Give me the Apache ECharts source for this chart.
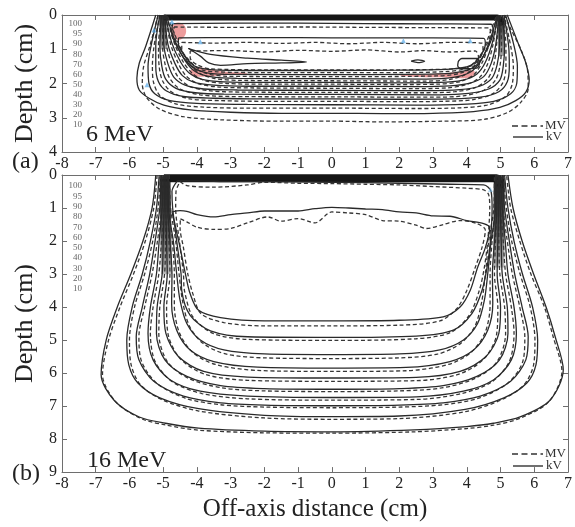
<!DOCTYPE html>
<html>
<head>
<meta charset="utf-8">
<script src="https://cdn.jsdelivr.net/npm/echarts@6/dist/echarts.min.js"></script>
<style>
  html, body { margin: 0; padding: 0; background: #fff; }
  #chart { width: 575px; height: 527px; }
</style>
</head>
<body>
<div id="chart"></div>
<script>
// Isodose levels (%) listed in the small key inside each panel
const isoLevels = [100, 95, 90, 80, 70, 60, 50, 40, 30, 20, 10];

// Axis ticks
const offAxisTicks = { min: -8, max: 7, step: 1 };
const depthMax6 = 4;
const depthMax16 = 9;

// ---------- 6 MeV isodose contours, [off-axis cm, depth cm] ----------
// kV-imaging plan (solid): 100 % islands, 95, 90, 80 ... 10 %
const kV6 = [
  [[-4.25,0.98],[-3.6,1.15],[-2.5,1.26],[-1.5,1.32],[-0.75,1.37],[-1.5,1.4],[-2.5,1.42],[-3.3,1.47],[-3.65,1.4],[-3.9,1.2],[-4.25,0.98]],
  [[2.35,1.35],[2.55,1.31],[2.75,1.35],[2.55,1.39],[2.35,1.35]],
  [[3.75,1.35],[3.85,1.27],[4.3,1.27],[4.38,1.38],[4.3,1.55],[3.85,1.57],[3.73,1.48],[3.75,1.35]],
  [[-4.55,0.67],[-3,0.66],[-1,0.66],[1,0.67],[3,0.67],[4.5,0.68],[4.55,0.85],[4.4,1.2],[4.1,1.48],[3.5,1.58],[2,1.61],[0,1.62],[-2,1.62],[-3.5,1.6],[-4.05,1.5],[-4.35,1.2],[-4.55,0.85],[-4.55,0.67]],
  [[-4.72,0.25],[-3,0.24],[-1,0.24],[1,0.25],[3,0.26],[4.72,0.27],[4.78,0.5],[4.6,1.0],[4.3,1.45],[3.9,1.64],[3.2,1.72],[0,1.74],[-3.2,1.73],[-3.85,1.65],[-4.22,1.45],[-4.55,1.0],[-4.75,0.5],[-4.72,0.25]],
  [[-4.9,0.04],[-4.65,0.75],[-4.35,1.33],[-4.05,1.65],[-3.6,1.8],[-2.8,1.85],[0,1.86],[2.8,1.87],[3.6,1.82],[4.1,1.67],[4.42,1.33],[4.68,0.75],[4.9,0.04]],
  [[-4.93,0.02],[-4.75,0.8],[-4.48,1.38],[-4.22,1.7],[-3.85,1.88],[-3.2,1.95],[-2,1.97],[0,1.97],[2,1.98],[3.2,1.97],[3.88,1.9],[4.3,1.72],[4.55,1.38],[4.76,0.8],[4.92,0.02]],
  [[-4.96,0],[-4.86,0.85],[-4.65,1.42],[-4.43,1.77],[-4.1,1.96],[-3.5,2.05],[-2.5,2.08],[0,2.08],[2.5,2.09],[3.5,2.07],[4.12,1.98],[4.5,1.8],[4.72,1.42],[4.86,0.85],[4.95,0]],
  [[-5.0,0],[-4.98,0.9],[-4.85,1.45],[-4.68,1.82],[-4.35,2.05],[-3.8,2.16],[-2.8,2.19],[0,2.2],[2.8,2.21],[3.8,2.18],[4.38,2.08],[4.74,1.85],[4.9,1.45],[4.97,0.9],[4.98,0]],
  [[-5.05,0],[-5.1,0.9],[-5.04,1.5],[-4.92,1.88],[-4.62,2.14],[-4.05,2.27],[-3.2,2.31],[0,2.32],[3.2,2.33],[4.05,2.29],[4.65,2.16],[4.98,1.9],[5.08,1.5],[5.12,0.9],[5.05,0]],
  [[-5.1,0],[-5.22,0.9],[-5.22,1.5],[-5.14,1.95],[-4.9,2.22],[-4.4,2.38],[-3.5,2.43],[-2,2.45],[0,2.45],[2,2.46],[3.5,2.45],[4.4,2.4],[4.95,2.24],[5.2,1.95],[5.26,1.5],[5.24,0.9],[5.1,0]],
  [[-5.15,0],[-5.36,0.9],[-5.45,1.5],[-5.42,2.0],[-5.25,2.3],[-4.8,2.5],[-4.0,2.58],[-2.5,2.61],[0,2.62],[2.5,2.63],[4.0,2.6],[4.8,2.52],[5.3,2.3],[5.48,2.0],[5.5,1.5],[5.4,0.9],[5.15,0]],
  [[-5.22,0],[-5.52,0.92],[-5.71,1.41],[-5.78,1.85],[-5.71,2.19],[-5.42,2.43],[-4.98,2.63],[-4.2,2.77],[-3,2.84],[-1.5,2.87],[0,2.87],[1.5,2.88],[3,2.87],[4.2,2.82],[4.98,2.7],[5.45,2.5],[5.75,2.25],[5.85,1.9],[5.75,1.4],[5.56,0.92],[5.2,0]]
];

// MV-imaging plan (dashed)
const MV6 = [
  [[-4.2,1.05],[-3.0,1.04],[-2.0,1.08],[-1.0,1.03],[0,1.06],[1.0,1.02],[2.0,1.08],[2.7,1.04],[3.5,1.08],[4.25,1.05],[4.35,1.25],[4.2,1.45],[3.8,1.56],[2,1.6],[0,1.6],[-2,1.6],[-3.6,1.57],[-4.0,1.45],[-4.2,1.25],[-4.2,1.05]],
  [[-4.45,0.8],[-3.5,0.82],[-2.5,0.8],[-1.5,0.83],[-0.5,0.8],[0.5,0.84],[1.5,0.8],[2.5,0.84],[3.5,0.8],[4.45,0.82],[4.48,1.0],[4.3,1.3],[4.0,1.55],[3.4,1.65],[2,1.68],[0,1.68],[-2,1.68],[-3.4,1.66],[-3.95,1.57],[-4.25,1.3],[-4.45,1.0],[-4.45,0.8]],
  [[-4.68,0.35],[-3,0.36],[-1,0.35],[1,0.36],[3,0.37],[4.68,0.38],[4.7,0.55],[4.52,1.0],[4.22,1.48],[3.8,1.7],[3.1,1.78],[0,1.8],[-3.1,1.79],[-3.75,1.7],[-4.15,1.48],[-4.48,1.0],[-4.68,0.55],[-4.68,0.35]],
  [[-4.87,0.04],[-4.58,0.75],[-4.28,1.35],[-3.95,1.68],[-3.5,1.85],[-2.7,1.91],[0,1.92],[2.7,1.93],[3.5,1.88],[4.0,1.71],[4.34,1.35],[4.6,0.75],[4.87,0.04]],
  [[-4.9,0.02],[-4.68,0.8],[-4.4,1.38],[-4.12,1.72],[-3.75,1.92],[-3.1,2.0],[-2,2.02],[0,2.02],[2,2.03],[3.1,2.02],[3.78,1.95],[4.2,1.75],[4.46,1.38],[4.68,0.8],[4.9,0.02]],
  [[-4.93,0],[-4.78,0.85],[-4.55,1.42],[-4.32,1.78],[-3.98,2.0],[-3.4,2.1],[-2.4,2.13],[0,2.14],[2.4,2.15],[3.4,2.13],[4.0,2.03],[4.38,1.82],[4.62,1.42],[4.78,0.85],[4.92,0]],
  [[-4.96,0],[-4.9,0.9],[-4.74,1.45],[-4.55,1.82],[-4.22,2.08],[-3.65,2.21],[-2.7,2.25],[0,2.26],[2.7,2.27],[3.65,2.24],[4.25,2.12],[4.62,1.86],[4.8,1.45],[4.88,0.9],[4.95,0]],
  [[-5.0,0],[-5.02,0.9],[-4.93,1.5],[-4.8,1.86],[-4.5,2.16],[-3.9,2.33],[-3.0,2.38],[0,2.39],[3.0,2.4],[3.9,2.36],[4.52,2.19],[4.85,1.9],[4.98,1.5],[5.03,0.9],[5.0,0]],
  [[-5.05,0],[-5.14,0.9],[-5.12,1.5],[-5.02,1.92],[-4.75,2.25],[-4.2,2.45],[-3.3,2.5],[-2,2.52],[0,2.52],[2,2.53],[3.3,2.52],[4.2,2.47],[4.8,2.28],[5.08,1.95],[5.16,1.5],[5.16,0.9],[5.06,0]],
  [[-5.1,0],[-5.27,0.9],[-5.32,1.5],[-5.29,1.95],[-5.1,2.35],[-4.6,2.6],[-3.8,2.69],[-2.5,2.72],[0,2.72],[2.5,2.73],[3.8,2.71],[4.6,2.63],[5.15,2.38],[5.35,2.0],[5.38,1.5],[5.3,0.9],[5.1,0]],
  [[-5.15,0],[-5.4,0.92],[-5.58,1.5],[-5.62,2.0],[-5.5,2.4],[-5.1,2.75],[-4.4,2.97],[-3.3,3.06],[-1.5,3.1],[0,3.1],[1.5,3.12],[3.3,3.1],[4.5,3.05],[5.2,2.85],[5.6,2.55],[5.82,2.15],[5.8,1.6],[5.6,1.0],[5.3,0.4],[5.12,0]]
];

// ---------- 16 MeV isodose contours ----------
// kV-imaging plan (solid): 95, 90, 80 ... 10 %
const kV16 = [
  [[-4.74,1.12],[-4.5,1.08],[-4.3,1.1],[-4.0,1.2],[-3.5,1.27],[-3.0,1.2],[-2.5,1.15],[-2.0,1.09],[-1.0,1.09],[-0.5,1.02],[0,0.98],[0.5,1.0],[1,1.03],[1.5,1.05],[2,1.12],[2.5,1.15],[3,1.24],[3.5,1.25],[4,1.38],[4.5,1.47],[4.68,1.6],[4.55,2.2],[4.32,2.8],[4.1,3.5],[3.8,4.0],[3.3,4.3],[2,4.4],[0,4.42],[-2,4.42],[-3.3,4.32],[-3.95,4.1],[-4.2,3.6],[-4.34,3.0],[-4.5,2.2],[-4.65,1.5],[-4.74,1.12]],
  [[-4.58,0.18],[-4.0,0.18],[-3.0,0.2],[-2.0,0.2],[0,0.22],[2,0.25],[3.5,0.28],[4.5,0.3],[4.72,0.5],[4.75,1.0],[4.7,2.0],[4.6,2.8],[4.45,3.5],[4.15,4.2],[3.6,4.7],[2.5,4.88],[0,4.92],[-2.5,4.9],[-3.6,4.72],[-4.2,4.25],[-4.45,3.5],[-4.47,3.0],[-4.6,2.0],[-4.72,1.0],[-4.74,0.5],[-4.58,0.18]],
  [[-4.84,0],[-4.84,1],[-4.7,2],[-4.6,3],[-4.5,3.8],[-4.3,4.5],[-3.9,5.0],[-3.2,5.3],[-2,5.42],[0,5.44],[2,5.42],[3.2,5.3],[3.9,5.0],[4.32,4.5],[4.52,3.8],[4.62,3],[4.72,2],[4.85,1],[4.85,0]],
  [[-4.88,0],[-4.87,1],[-4.8,2],[-4.74,3],[-4.75,3.9],[-4.6,4.7],[-4.2,5.3],[-3.5,5.65],[-2.2,5.82],[0,5.85],[2.2,5.83],[3.5,5.65],[4.2,5.3],[4.62,4.7],[4.77,3.9],[4.76,3],[4.82,2],[4.89,1],[4.89,0]],
  [[-4.92,0],[-4.92,1],[-4.9,2],[-4.88,3],[-4.98,4],[-4.92,4.8],[-4.55,5.5],[-3.8,5.95],[-2.5,6.12],[0,6.15],[2.5,6.13],[3.8,5.95],[4.57,5.5],[4.95,4.8],[5.0,4],[4.9,3],[4.92,2],[4.94,1],[4.93,0]],
  [[-4.95,0],[-4.97,1],[-5.0,2],[-5.03,3],[-5.18,4],[-5.2,4.8],[-4.95,5.6],[-4.3,6.1],[-3.3,6.38],[-2,6.47],[0,6.49],[2,6.47],[3.3,6.38],[4.3,6.1],[4.97,5.6],[5.22,4.8],[5.2,4],[5.05,3],[5.02,2],[4.99,1],[4.96,0]],
  [[-5.0,0],[-5.03,1],[-5.12,2],[-5.2,3],[-5.38,4],[-5.45,4.8],[-5.3,5.6],[-4.8,6.2],[-3.9,6.55],[-2.5,6.7],[0,6.74],[2.5,6.72],[3.9,6.55],[4.8,6.2],[5.32,5.6],[5.47,4.8],[5.4,4],[5.22,3],[5.14,2],[5.05,1],[5.01,0]],
  [[-5.05,0],[-5.1,1],[-5.24,2],[-5.4,3],[-5.62,4],[-5.8,4.9],[-5.72,5.6],[-5.28,6.25],[-4.4,6.7],[-3.3,6.9],[-2,6.97],[0,6.99],[2,6.97],[3.3,6.9],[4.4,6.7],[5.3,6.25],[5.75,5.6],[5.82,4.9],[5.64,4],[5.42,3],[5.26,2],[5.12,1],[5.06,0]],
  [[-5.12,0],[-5.2,1],[-5.38,2],[-5.62,3],[-5.92,4],[-6.08,5],[-6.02,5.75],[-5.75,6.3],[-5.1,6.75],[-3.95,7.08],[-2,7.28],[0,7.32],[2,7.3],[3.95,7.1],[5.1,6.75],[5.78,6.3],[6.05,5.75],[6.1,5.0],[5.95,4.0],[5.65,3.0],[5.4,2.0],[5.22,1.0],[5.12,0]],
  [[-5.22,0],[-5.33,1],[-5.6,2],[-5.96,3],[-6.36,4],[-6.69,5],[-6.84,6.05],[-6.45,6.83],[-5.71,7.33],[-4.93,7.52],[-3.95,7.67],[-2,7.76],[0,7.78],[2.44,7.72],[4.0,7.62],[4.79,7.52],[5.58,7.33],[6.46,6.83],[6.86,5.9],[6.62,4.9],[6.35,4.0],[5.98,3.0],[5.64,2.0],[5.37,1.0],[5.22,0]]
];

// MV-imaging plan (dashed)
const MV16 = [
  [[-4.49,1.33],[-4.3,1.42],[-4.0,1.58],[-3.5,1.65],[-3.0,1.62],[-2.5,1.45],[-1.9,1.27],[-1.5,1.4],[-1.0,1.32],[-0.5,1.45],[0,1.12],[0.5,1.15],[1,1.2],[1.5,1.38],[2,1.4],[2.5,1.52],[2.8,1.62],[3.3,1.5],[3.8,1.38],[4.3,1.47],[4.55,1.67],[4.45,2.2],[4.25,2.8],[4.0,3.5],[3.7,4.05],[3.2,4.42],[2,4.55],[0,4.57],[-2,4.57],[-3.2,4.47],[-3.88,4.2],[-4.12,3.6],[-4.27,3.0],[-4.4,2.2],[-4.5,1.6],[-4.49,1.33]],
  [[-4.5,0.2],[-4.3,0.32],[-3.5,0.37],[-2.5,0.3],[-2.0,0.22],[-1,0.25],[0,0.26],[1,0.28],[2,0.3],[3,0.35],[4,0.4],[4.5,0.45],[4.65,0.6],[4.68,1.0],[4.62,2.0],[4.52,2.8],[4.37,3.5],[4.07,4.25],[3.52,4.77],[2.5,4.96],[0,5.01],[-2.5,4.98],[-3.52,4.8],[-4.12,4.3],[-4.37,3.5],[-4.4,3.0],[-4.52,2.0],[-4.63,1.0],[-4.62,0.5],[-4.5,0.2]],
  [[-4.82,0],[-4.78,1],[-4.63,2],[-4.53,3],[-4.42,3.85],[-4.22,4.58],[-3.82,5.1],[-3.15,5.42],[-2,5.54],[0,5.56],[2,5.54],[3.15,5.42],[3.82,5.1],[4.24,4.58],[4.44,3.85],[4.55,3],[4.65,2],[4.8,1],[4.82,0]],
  [[-4.86,0],[-4.82,1],[-4.73,2],[-4.67,3],[-4.67,3.95],[-4.52,4.78],[-4.12,5.38],[-3.45,5.74],[-2.2,5.92],[0,5.95],[2.2,5.93],[3.45,5.74],[4.12,5.38],[4.54,4.78],[4.69,3.95],[4.69,3],[4.75,2],[4.84,1],[4.86,0]],
  [[-4.9,0],[-4.87,1],[-4.83,2],[-4.8,3],[-4.9,4],[-4.85,4.85],[-4.48,5.58],[-3.75,6.04],[-2.5,6.22],[0,6.25],[2.5,6.23],[3.75,6.04],[4.5,5.58],[4.88,4.85],[4.92,4],[4.82,3],[4.85,2],[4.89,1],[4.9,0]],
  [[-4.92,0],[-4.92,1],[-4.93,2],[-4.96,3],[-5.1,4],[-5.13,4.8],[-4.88,5.65],[-4.25,6.16],[-3.25,6.45],[-2,6.54],[0,6.56],[2,6.54],[3.25,6.45],[4.25,6.16],[4.9,5.65],[5.15,4.8],[5.12,4],[4.98,3],[4.95,2],[4.94,1],[4.93,0]],
  [[-4.97,0],[-4.98,1],[-5.05,2],[-5.13,3],[-5.3,4],[-5.38,4.8],[-5.24,5.65],[-4.72,6.27],[-3.85,6.62],[-2.5,6.78],[0,6.82],[2.5,6.8],[3.85,6.62],[4.74,6.27],[5.26,5.65],[5.4,4.8],[5.32,4],[5.15,3],[5.08,2],[5.0,1],[4.98,0]],
  [[-5.01,0],[-5.05,1],[-5.17,2],[-5.33,3],[-5.55,4],[-5.72,4.9],[-5.64,5.65],[-5.2,6.3],[-4.35,6.76],[-3.3,6.96],[-2,7.03],[0,7.05],[2,7.03],[3.3,6.96],[4.35,6.76],[5.22,6.3],[5.66,5.65],[5.72,4.9],[5.57,4],[5.35,3],[5.2,2],[5.07,1],[5.02,0]],
  [[-5.08,0],[-5.15,1],[-5.31,2],[-5.55,3],[-5.85,4],[-6.0,5],[-5.95,5.75],[-5.68,6.35],[-5.05,6.8],[-3.95,7.15],[-2,7.36],[0,7.40],[2,7.38],[3.95,7.17],[5.05,6.8],[5.7,6.35],[5.98,5.75],[6.02,5.0],[5.88,4.0],[5.58,3.0],[5.33,2.0],[5.17,1.0],[5.08,0]],
  [[-5.18,0],[-5.28,1],[-5.53,2],[-5.88,3],[-6.28,4],[-6.62,5],[-6.8,6.05],[-6.4,6.88],[-5.65,7.38],[-4.9,7.58],[-3.95,7.73],[-2,7.81],[0,7.82],[2.44,7.78],[4.0,7.68],[4.79,7.58],[5.55,7.38],[6.42,6.88],[6.82,5.95],[6.56,4.9],[6.3,4.0],[5.9,3.0],[5.57,2.0],[5.3,1.0],[5.18,0]]
];

// Dense high-dose region at the surface and along the field edges
const surface6 = [[-4.98,0.07],[4.9,0.07],[5.0,0.12],[5.04,0.3]];
const edgeLeft6 = [[-5.02,0.0],[-4.98,1.0]];
const edgeRight6 = [[5.02,0.1],[5.03,1.2]];
const surface16 = [[-4.98,0.1],[4.88,0.1],[4.98,0.16],[5.0,0.4]];
const edgeLeft16 = [[-4.95,0.05],[-4.9,3.0]];
const edgeRight16 = [[4.96,0.1],[4.95,2.8]];

// Highlighted dose differences in the 6 MeV plan
const hotSpots6 = [
  [[-4.78,0.45],[-4.7,0.28],[-4.55,0.22],[-4.38,0.3],[-4.32,0.48],[-4.4,0.66],[-4.55,0.73],[-4.72,0.63]],
  [[-4.2,1.62],[-4.0,1.53],[-3.7,1.56],[-3.2,1.65],[-2.5,1.7],[-3.2,1.76],[-3.8,1.8],[-4.15,1.77]],
  [[2.0,1.76],[3.0,1.72],[3.8,1.66],[4.2,1.62],[4.22,1.75],[4.0,1.84],[3.3,1.82],[2.4,1.8]]
];
const coldMarks6 = [[-4.74,0.2],[-3.9,0.78],[-5.48,2.04],[2.12,0.75],[4.1,0.75],[-5.27,0.44]];
const coldMarks16 = [[4.7,0.44]];

// ---------- chart ----------
const SERIF = '"Liberation Serif", "Times New Roman", serif';
const frameLine = { color: '#6e6e6e', width: 1 };
const INK = '#2a2a2a';

function xAx(grid, pos, withLabels, extra) {
  return Object.assign({
    gridIndex: grid, type: 'value', position: pos,
    min: offAxisTicks.min, max: offAxisTicks.max, interval: offAxisTicks.step,
    axisLine: { show: true, onZero: false, lineStyle: frameLine },
    axisTick: { show: true, inside: true, length: 5, lineStyle: frameLine },
    axisLabel: { show: withLabels, fontFamily: SERIF, fontSize: 16, color: '#222', margin: 4 },
    splitLine: { show: false }
  }, extra || {});
}
function yAx(grid, pos, maxDepth, withLabels, extra) {
  return Object.assign({
    gridIndex: grid, type: 'value', position: pos, inverse: true,
    min: 0, max: maxDepth, interval: 1,
    axisLine: { show: true, onZero: false, lineStyle: frameLine },
    axisTick: { show: true, inside: true, length: 5, lineStyle: frameLine },
    axisLabel: { show: withLabels, fontFamily: SERIF, fontSize: 16, color: '#222', margin: 5 },
    splitLine: { show: false }
  }, extra || {});
}

const series = [];

function addBand(pts, axis, width, color) {
  series.push({
    type: 'line', xAxisIndex: axis, yAxisIndex: axis, data: pts,
    showSymbol: false, silent: true, z: 2,
    lineStyle: { color: color, width: width, cap: 'butt', join: 'round' }
  });
}
const edgeFade = { type: 'linear', x: 0, y: 0, x2: 0, y2: 1,
  colorStops: [{ offset: 0, color: 'rgba(15,15,15,0.95)' }, { offset: 0.55, color: 'rgba(40,40,40,0.8)' }, { offset: 1, color: 'rgba(90,90,90,0.35)' }] };
const edgeFadeShort = { type: 'linear', x: 0, y: 0, x2: 0, y2: 1,
  colorStops: [{ offset: 0, color: 'rgba(15,15,15,0.95)' }, { offset: 1, color: 'rgba(60,60,60,0.4)' }] };

addBand(surface6, 0, 6, '#151515');
addBand(edgeLeft6, 0, 7, edgeFadeShort);
addBand(edgeRight6, 0, 7, edgeFadeShort);
addBand(surface16, 2, 8, '#151515');
addBand(edgeLeft16, 2, 11, edgeFade);
addBand(edgeRight16, 2, 11, edgeFade);

// red hot-spot patches drawn as polygons through the axis scales
series.push({
  type: 'custom', xAxisIndex: 0, yAxisIndex: 0, silent: true, z: 3,
  data: hotSpots6.map((p, i) => [i]),
  renderItem: function (params, api) {
    const poly = hotSpots6[api.value(0)].map(p => api.coord(p));
    return { type: 'polygon', shape: { points: poly, smooth: 0.4 },
      style: { fill: 'rgba(226,96,96,0.62)' } };
  }
});

function addContours(list, axis, dashed) {
  list.forEach(pts => {
    series.push({
      type: 'line', xAxisIndex: axis, yAxisIndex: axis, data: pts,
      showSymbol: false, silent: true, smooth: 0.3, z: 4,
      lineStyle: { color: dashed ? '#363636' : INK, width: 1.3,
        type: dashed ? [4, 2.6] : 'solid' }
    });
  });
}
addContours(MV6, 0, true);
addContours(kV6, 0, false);
addContours(MV16, 2, true);
addContours(kV16, 2, false);

series.push({
  type: 'scatter', xAxisIndex: 0, yAxisIndex: 0, data: coldMarks6, silent: true, z: 5,
  symbol: 'triangle', symbolSize: 5, itemStyle: { color: 'rgba(80,165,230,0.85)' }
});
series.push({
  type: 'scatter', xAxisIndex: 2, yAxisIndex: 2, data: coldMarks16, silent: true, z: 5,
  symbol: 'triangle', symbolSize: 5, itemStyle: { color: 'rgba(120,185,230,0.7)' }
});

// overlay text: panel tags, energies, line key and isodose key
const graphic = [];
function txt(x, y, s, size, opts) {
  graphic.push(Object.assign({ type: 'text', x: x, y: y, silent: true, z: 20,
    style: Object.assign({ text: s, fontFamily: SERIF, fontSize: size, fill: '#222' }, (opts && opts.style) || {}) }, (opts && opts.el) || {}));
}
txt(12, 162, '(a)', 24, { style: { verticalAlign: 'middle' } });
txt(12, 474, '(b)', 24, { style: { verticalAlign: 'middle' } });
txt(86, 147, '6 MeV', 24, { style: { verticalAlign: 'bottom' } });
txt(87, 473, '16 MeV', 24, { style: { verticalAlign: 'bottom' } });

function lineKey(yDash, ySolid) {
  graphic.push({ type: 'line', silent: true, z: 20, shape: { x1: 512, y1: yDash, x2: 543, y2: yDash },
    style: { stroke: '#333', lineWidth: 1.4, lineDash: [6, 3.5] } });
  graphic.push({ type: 'line', silent: true, z: 20, shape: { x1: 513, y1: ySolid, x2: 543, y2: ySolid },
    style: { stroke: '#333', lineWidth: 1.4 } });
  txt(545, yDash, 'MV', 13, { style: { verticalAlign: 'middle', fill: '#333' } });
  txt(546, ySolid, 'kV', 13, { style: { verticalAlign: 'middle', fill: '#333' } });
}
lineKey(126, 137);
lineKey(454, 466);

isoLevels.forEach((lv, i) => {
  txt(82, 24 + i * 10.05, String(lv), 9, { style: { align: 'right', verticalAlign: 'middle', fill: '#666' } });
  txt(82, 186 + i * 10.3, String(lv), 9, { style: { align: 'right', verticalAlign: 'middle', fill: '#666' } });
});

const option = {
  animation: false,
  backgroundColor: '#ffffff',
  grid: [
    { left: 62, top: 15, width: 511, height: 137 },
    { left: 62, top: 175, width: 511, height: 305 }
  ],
  xAxis: [
    xAx(0, 'bottom', true),
    xAx(0, 'top', false),
    xAx(1, 'bottom', true, { name: 'Off-axis distance (cm)', nameLocation: 'middle', nameGap: 22,
      nameTextStyle: { fontFamily: SERIF, fontSize: 25, color: '#222' } }),
    xAx(1, 'top', false)
  ],
  yAxis: [
    yAx(0, 'left', depthMax6, true, { name: 'Depth (cm)', nameLocation: 'middle', nameGap: 16,
      nameTextStyle: { fontFamily: SERIF, fontSize: 26, color: '#222' } }),
    yAx(0, 'right', depthMax6, false),
    yAx(1, 'left', depthMax16, true, { name: 'Depth (cm)', nameLocation: 'middle', nameGap: 16,
      nameTextStyle: { fontFamily: SERIF, fontSize: 26, color: '#222' } }),
    yAx(1, 'right', depthMax16, false)
  ],
  series: series,
  graphic: graphic
};

const chart = echarts.init(document.getElementById('chart'), null, { renderer: 'canvas' });
chart.setOption(option);
</script>
</body>
</html>
